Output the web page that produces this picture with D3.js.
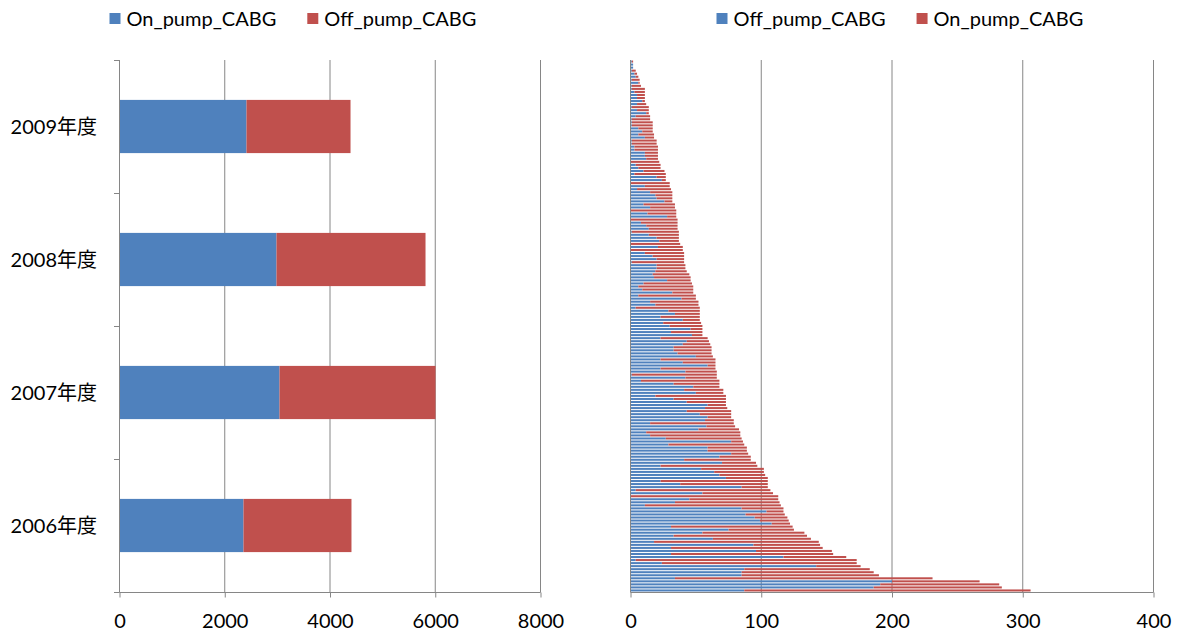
<!DOCTYPE html>
<html>
<head>
<meta charset="utf-8">
<script src="https://cdn.jsdelivr.net/npm/d3@7"></script>
<style>
  html, body { margin: 0; padding: 0; background: #ffffff; }
  svg text { font-family: Lato, "Noto Sans CJK JP", sans-serif; fill: #000; }
</style>
</head>
<body>
<svg id="chart" width="1177" height="631"></svg>
<script>
// ---- Left panel: yearly totals ----
const years = ["2009年度", "2008年度", "2007年度", "2006年度"];
const yearOnPump = [2413, 2983, 3040, 2356];
const yearOffPump = [1977, 2832, 2965, 2052];
const yearTicks = [0, 2000, 4000, 6000, 8000];

// ---- Right panel: per-hospital counts, ranked from largest (bottom) to smallest (top) ----
const hospOffPump = [
  87,186,191,200,34,85,85,87,142,24,4,117,31,96,31,94,18,63,33,55,75,31,108,99,95,
  88,104,85,11,34,45,0,55,4,85,38,23,73,68,64,54,23,70,41,68,77,59,59,29,77,
  27,15,12,52,58,15,57,59,53,43,57,59,43,33,19,50,41,48,33,8,42,1,42,23,59,
  40,23,50,36,33,33,40,43,23,47,31,46,30,25,40,23,34,29,4,19,15,39,6,32,9,
  6,10,28,18,17,19,20,20,1,20,17,11,0,21,0,22,20,14,1,14,12,8,0,28,13,
  0,15,10,26,20,19,15,5,11,0,24,20,3,10,6,4,0,12,11,11,3,3,1,1,11,
  6,9,6,1,1,1,4,12,5,1,5,9,5,5,3,1,1,6,1,4,3,1,2,2,1
];
const hospOnPump = [
  219,98,91,67,197,105,101,96,34,149,169,48,124,58,116,51,126,75,102,78,50,93,14,22,25,
  30,13,32,104,80,68,113,54,103,20,67,82,32,35,38,48,74,26,51,24,13,30,30,58,9,
  58,69,72,31,22,64,22,18,24,34,17,14,30,40,54,21,30,20,35,60,24,65,24,42,6,
  25,42,13,26,29,29,21,17,36,8,24,9,25,29,13,30,19,24,49,33,37,11,44,16,39,
  42,37,18,28,28,24,22,22,40,21,24,30,40,19,38,15,17,23,36,22,24,28,36,7,22,
  35,19,24,6,12,13,17,26,19,30,3,7,24,16,17,19,22,9,10,10,18,18,19,19,7,
  12,8,11,16,16,14,11,2,9,13,7,2,6,6,8,10,7,1,6,2,2,3,0,0,1
];
const hospTicks = [0, 100, 200, 300, 400];

const BLUE = "#4f81bd";
const RED = "#c0504d";
const GRID = "#868686";
const FONT = 20;

const svg = d3.select("#chart");

function legend(x, items) {
  const g = svg.append("g").attr("transform", `translate(${x},0)`);
  let cx = 0;
  items.forEach(it => {
    g.append("rect").attr("x", cx).attr("y", 13).attr("width", 11).attr("height", 11).attr("fill", it.color);
    const t = g.append("text").attr("x", cx + 17).attr("y", 26).attr("font-size", FONT).text(it.label);
    cx += 17 + t.node().getComputedTextLength() + 31;
  });
}

function valueAxis(x, ticks, top, bottom) {
  // vertical gridlines
  svg.append("g").selectAll("line").data(ticks.slice(1)).join("line")
    .attr("x1", d => x(d)).attr("x2", d => x(d))
    .attr("y1", top).attr("y2", bottom)
    .attr("stroke", GRID).attr("stroke-width", 1);
  const ax = svg.append("g").attr("transform", `translate(0,${bottom})`)
    .call(d3.axisBottom(x).tickValues(ticks).tickSize(5).tickFormat(d3.format("d")));
  ax.select(".domain").attr("stroke", GRID).attr("d", `M${x.range()[0]},0H${x.range()[1]}`);
  ax.selectAll(".tick line").attr("stroke", GRID);
  ax.selectAll(".tick text").attr("font-size", FONT).attr("font-family", null)
    .attr("y", 35.5).attr("dy", null);
}

// ================= Left panel =================
const xL = d3.scaleLinear().domain([0, 8000]).range([119.5, 540.5]);
const yL = d3.scaleBand().domain(years).range([60, 592]).paddingInner(0.6).paddingOuter(0.3);

valueAxis(xL, yearTicks, 60, 592.5);

const leftSeries = [
  { vals: yearOnPump, base: years.map(() => 0), color: BLUE },
  { vals: yearOffPump, base: yearOnPump, color: RED }
];
leftSeries.forEach(s => {
  svg.append("g").selectAll("rect").data(years).join("rect")
    .attr("x", (d, i) => xL(s.base[i]))
    .attr("width", (d, i) => xL(s.base[i] + s.vals[i]) - xL(s.base[i]))
    .attr("y", d => yL(d)).attr("height", yL.bandwidth())
    .attr("fill", s.color);
});

// category axis with boundary ticks
const gy = svg.append("g");
gy.append("line").attr("x1", 119.5).attr("x2", 119.5).attr("y1", 60).attr("y2", 592.5).attr("stroke", GRID);
const bounds = years.map(d => yL(d) - yL.step() * 0.3).concat([592]);
gy.selectAll("line.tk").data(bounds).join("line").attr("class", "tk")
  .attr("x1", 114).attr("x2", 119.5).attr("y1", d => Math.round(d) + 0.5).attr("y2", d => Math.round(d) + 0.5)
  .attr("stroke", GRID);
gy.selectAll("text").data(years).join("text")
  .attr("x", 97).attr("y", d => yL(d) + yL.bandwidth() / 2 + 7.5)
  .attr("text-anchor", "end").attr("font-size", FONT).text(d => d);

legend(109.5, [{ label: "On_pump_CABG", color: BLUE }, { label: "Off_pump_CABG", color: RED }]);

// ================= Right panel =================
const ranks = hospOffPump.map((d, i) => i + 1);
const xR = d3.scaleLinear().domain([0, 400]).range([630.5, 1153.5]);
const yR = d3.scaleBand().domain(ranks).range([592, 60]).paddingInner(0.33).paddingOuter(0.17);

valueAxis(xR, hospTicks, 60, 592.5);

const rightSeries = [
  { vals: hospOffPump, base: ranks.map(() => 0), color: BLUE },
  { vals: hospOnPump, base: hospOffPump, color: RED }
];
rightSeries.forEach(s => {
  svg.append("g").selectAll("rect").data(ranks).join("rect")
    .attr("x", (d, i) => xR(s.base[i]))
    .attr("width", (d, i) => xR(s.base[i] + s.vals[i]) - xR(s.base[i]))
    .attr("y", d => yR(d)).attr("height", yR.bandwidth())
    .attr("fill", s.color);
});
svg.append("line").attr("x1", 630.5).attr("x2", 630.5).attr("y1", 60).attr("y2", 592.5).attr("stroke", GRID);

legend(716.5, [{ label: "Off_pump_CABG", color: BLUE }, { label: "On_pump_CABG", color: RED }]);
</script>
</body>
</html>
